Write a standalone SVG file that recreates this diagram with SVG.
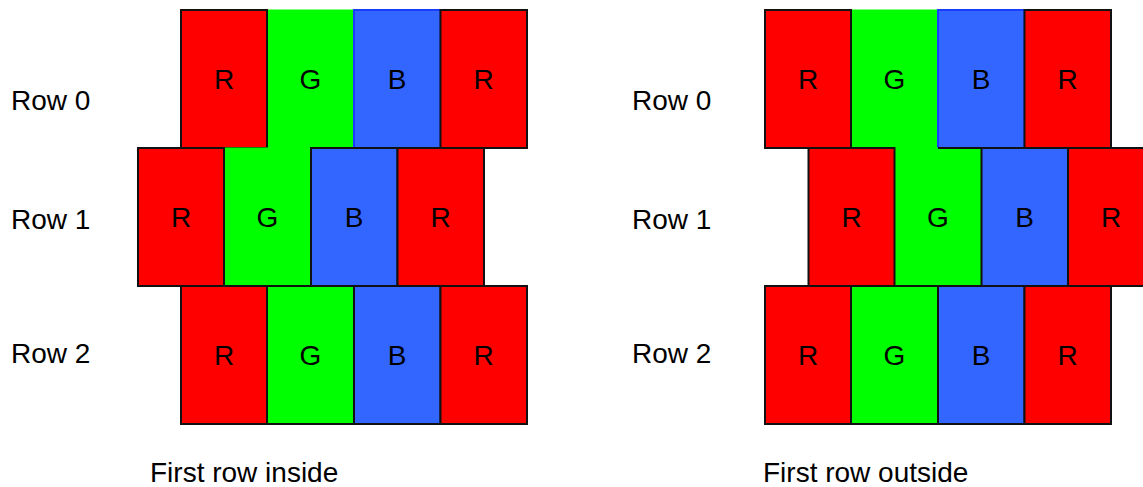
<svg xmlns="http://www.w3.org/2000/svg" width="1143" height="487" viewBox="0 0 1143 487">
<style>
.r{fill:#ff0000;stroke:#111;stroke-width:2}
.g{fill:#00ff00;stroke:#00ff00;stroke-width:1}
.b{fill:#3366ff;stroke:#1a3cff;stroke-width:2}
.bk{fill:#3366ff;stroke:#111;stroke-width:2}
.ln{stroke:#111;stroke-width:2}
.t{font-family:"Liberation Sans",Arial,sans-serif;font-size:28px;fill:#000}
.c{text-anchor:middle}
</style>
<rect width="1143" height="487" fill="#fff"/>
<g id="left-panel">
  <g id="L-row0">
    <rect class="g" x="267" y="10" width="87" height="138"/>
    <rect class="b" x="354" y="10" width="86.5" height="138"/>
    <rect class="r" x="181" y="10" width="86" height="138"/>
    <rect class="r" x="440.5" y="10" width="86.5" height="138"/>
    <text class="t c" x="224" y="89">R</text>
    <text class="t c" x="310.5" y="89">G</text>
    <text class="t c" x="397" y="89">B</text>
    <text class="t c" x="483.5" y="89">R</text>
  </g>
  <g id="L-row1">
    <rect class="g" x="224" y="148" width="87" height="138"/>
    <rect class="bk" x="311" y="148" width="86.5" height="138"/>
    <rect class="r" x="138" y="148" width="86" height="138"/>
    <rect class="r" x="397.5" y="148" width="86.5" height="138"/>
    <text class="t c" x="181" y="227">R</text>
    <text class="t c" x="267.5" y="227">G</text>
    <text class="t c" x="354" y="227">B</text>
    <text class="t c" x="440.5" y="227">R</text>
  </g>
  <g id="L-row2">
    <rect class="g" x="267" y="286" width="87" height="138"/>
    <rect class="bk" x="354" y="286" width="86.5" height="138"/>
    <rect class="r" x="181" y="286" width="86" height="138"/>
    <rect class="r" x="440.5" y="286" width="86.5" height="138"/>
    <line class="ln" x1="267" y1="286" x2="267" y2="424"/>
    <line class="ln" x1="181" y1="424" x2="527" y2="424"/>
    <line class="ln" x1="138" y1="286" x2="527" y2="286"/>
    <text class="t c" x="224" y="365">R</text>
    <text class="t c" x="310.5" y="365">G</text>
    <text class="t c" x="397" y="365">B</text>
    <text class="t c" x="483.5" y="365">R</text>
  </g>
  <g id="L-labels">
    <text class="t" x="11" y="110">Row 0</text>
    <text class="t" x="11" y="229">Row 1</text>
    <text class="t" x="11" y="363">Row 2</text>
    <text class="t" x="150" y="482">First row inside</text>
  </g>
</g>
<g id="right-panel">
  <g id="R-row0">
    <rect class="g" x="851" y="10" width="87" height="138"/>
    <rect class="b" x="938" y="10" width="86.5" height="138"/>
    <rect class="r" x="765" y="10" width="86" height="138"/>
    <rect class="r" x="1024.5" y="10" width="86.5" height="138"/>
    <text class="t c" x="808" y="89">R</text>
    <text class="t c" x="894.5" y="89">G</text>
    <text class="t c" x="981" y="89">B</text>
    <text class="t c" x="1067.5" y="89">R</text>
  </g>
  <g id="R-row1">
    <rect class="g" x="894.5" y="148" width="87" height="138"/>
    <rect class="bk" x="981.5" y="148" width="86.5" height="138"/>
    <rect class="r" x="808.5" y="148" width="86" height="138"/>
    <rect class="r" x="1068" y="148" width="86.5" height="138"/>
    <line class="ln" x1="938" y1="148" x2="981.5" y2="148"/>
    <text class="t c" x="851.5" y="227">R</text>
    <text class="t c" x="938" y="227">G</text>
    <text class="t c" x="1024.5" y="227">B</text>
    <text class="t c" x="1111" y="227">R</text>
  </g>
  <g id="R-row2">
    <rect class="g" x="851" y="286" width="87" height="138"/>
    <rect class="bk" x="938" y="286" width="86.5" height="138"/>
    <rect class="r" x="765" y="286" width="86" height="138"/>
    <rect class="r" x="1024.5" y="286" width="86.5" height="138"/>
    <line class="ln" x1="851" y1="286" x2="851" y2="424"/>
    <line class="ln" x1="765" y1="424" x2="1111" y2="424"/>
    <line class="ln" x1="765" y1="286" x2="1143" y2="286"/>
    <text class="t c" x="808" y="365">R</text>
    <text class="t c" x="894.5" y="365">G</text>
    <text class="t c" x="981" y="365">B</text>
    <text class="t c" x="1067.5" y="365">R</text>
  </g>
  <g id="R-labels">
    <text class="t" x="632" y="110">Row 0</text>
    <text class="t" x="632" y="229">Row 1</text>
    <text class="t" x="632" y="363">Row 2</text>
    <text class="t" x="763" y="482">First row outside</text>
  </g>
</g>
<g id="connectors"/>
</svg>
